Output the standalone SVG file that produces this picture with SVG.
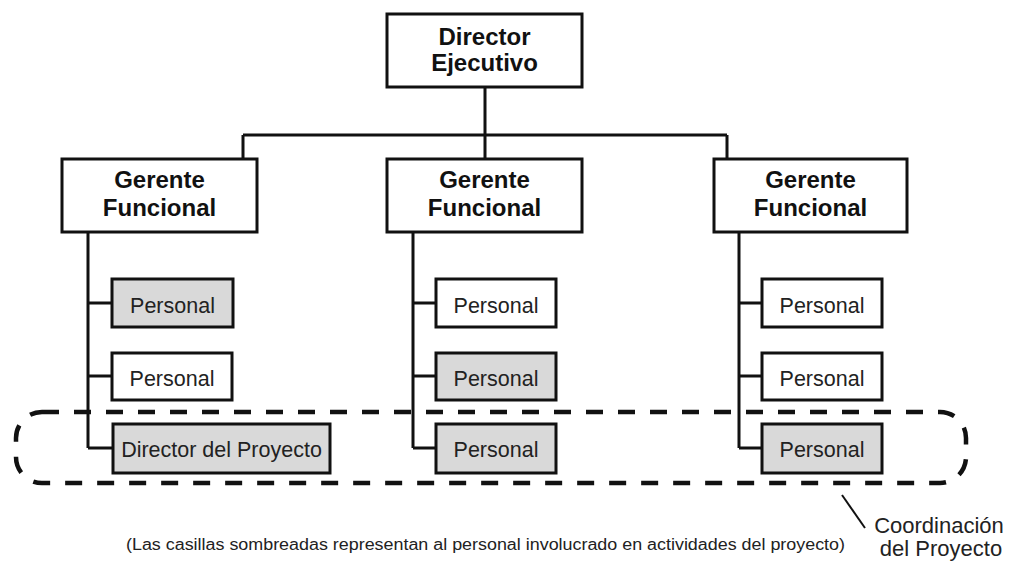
<svg xmlns="http://www.w3.org/2000/svg" width="1009" height="561" viewBox="0 0 1009 561">
  <style>
    .box { fill: #ffffff; stroke: #111111; stroke-width: 3; }
    .shaded { fill: #d9d9d9; }
    .head { font-family: "Liberation Sans", Arial, sans-serif; font-weight: bold; font-size: 24px; fill: #111111; text-anchor: middle; }
    .lbl { font-family: "Liberation Sans", Arial, sans-serif; font-size: 21.5px; fill: #222222; text-anchor: middle; }
    .wire { fill: none; stroke: #111111; stroke-width: 3; }
    .note { font-family: "Liberation Sans", Arial, sans-serif; font-size: 16px; fill: #222222; }
  </style>
  <rect width="1009" height="561" fill="#ffffff"/>

  <!-- connectors -->
  <g id="connectors" class="wire">
    <path d="M485 87 V135 M243 135 H727 M243 135 V159 M485 135 V159 M727 135 V159"/>
    <path d="M88 232 V448 M88 303 H112 M88 376 H112 M88 448 H113"/>
    <path d="M413 232 V448 M413 303 H436 M413 376 H436 M413 448 H436"/>
    <path d="M739 232 V448 M739 303 H762 M739 376 H762 M739 448 H762"/>
  </g>

  <!-- top level -->
  <g id="director-ejecutivo">
    <rect class="box" x="387" y="14" width="195" height="73"/>
    <text class="head" x="484.5" y="45">Director</text>
    <text class="head" x="484.5" y="71">Ejecutivo</text>
  </g>

  <!-- functional managers -->
  <g id="gerente-1">
    <rect class="box" x="62" y="159" width="195" height="73"/>
    <text class="head" x="159.5" y="188">Gerente</text>
    <text class="head" x="159.5" y="216">Funcional</text>
  </g>
  <g id="gerente-2">
    <rect class="box" x="387" y="159" width="195" height="73"/>
    <text class="head" x="484.5" y="188">Gerente</text>
    <text class="head" x="484.5" y="216">Funcional</text>
  </g>
  <g id="gerente-3">
    <rect class="box" x="714" y="159" width="193" height="73"/>
    <text class="head" x="810.5" y="188">Gerente</text>
    <text class="head" x="810.5" y="216">Funcional</text>
  </g>

  <!-- staff, column 1 -->
  <g id="personal-1-1">
    <rect class="box shaded" x="112" y="279" width="121" height="48"/>
    <text class="lbl" x="172.5" y="313">Personal</text>
  </g>
  <g id="personal-1-2">
    <rect class="box" x="112" y="353" width="120" height="47"/>
    <text class="lbl" x="172" y="386">Personal</text>
  </g>
  <g id="director-proyecto">
    <rect class="box shaded" x="113" y="424" width="217" height="49"/>
    <text class="lbl" x="221.5" y="457">Director del Proyecto</text>
  </g>

  <!-- staff, column 2 -->
  <g id="personal-2-1">
    <rect class="box" x="436" y="279" width="120" height="48"/>
    <text class="lbl" x="496" y="313">Personal</text>
  </g>
  <g id="personal-2-2">
    <rect class="box shaded" x="436" y="353" width="120" height="47"/>
    <text class="lbl" x="496" y="386">Personal</text>
  </g>
  <g id="personal-2-3">
    <rect class="box shaded" x="436" y="424" width="120" height="49"/>
    <text class="lbl" x="496" y="457">Personal</text>
  </g>

  <!-- staff, column 3 -->
  <g id="personal-3-1">
    <rect class="box" x="762" y="279" width="120" height="48"/>
    <text class="lbl" x="822" y="313">Personal</text>
  </g>
  <g id="personal-3-2">
    <rect class="box" x="762" y="353" width="120" height="47"/>
    <text class="lbl" x="822" y="386">Personal</text>
  </g>
  <g id="personal-3-3">
    <rect class="box shaded" x="762" y="424" width="120" height="49"/>
    <text class="lbl" x="822" y="457">Personal</text>
  </g>

  <!-- project coordination boundary -->
  <g id="coordinacion">
    <rect x="16" y="412" width="950" height="71" rx="26" ry="26" fill="none" stroke="#111111" stroke-width="4.5" stroke-dasharray="17 15"/>
    <line x1="842" y1="495" x2="865" y2="528" stroke="#111111" stroke-width="2"/>
    <text class="lbl" x="939" y="533" style="font-size:22px">Coordinación</text>
    <text class="lbl" x="941" y="556" style="font-size:22px">del Proyecto</text>
  </g>

  <text class="note" x="126" y="550" textLength="719" lengthAdjust="spacingAndGlyphs">(Las casillas sombreadas representan al personal involucrado en actividades del proyecto)</text>
</svg>
